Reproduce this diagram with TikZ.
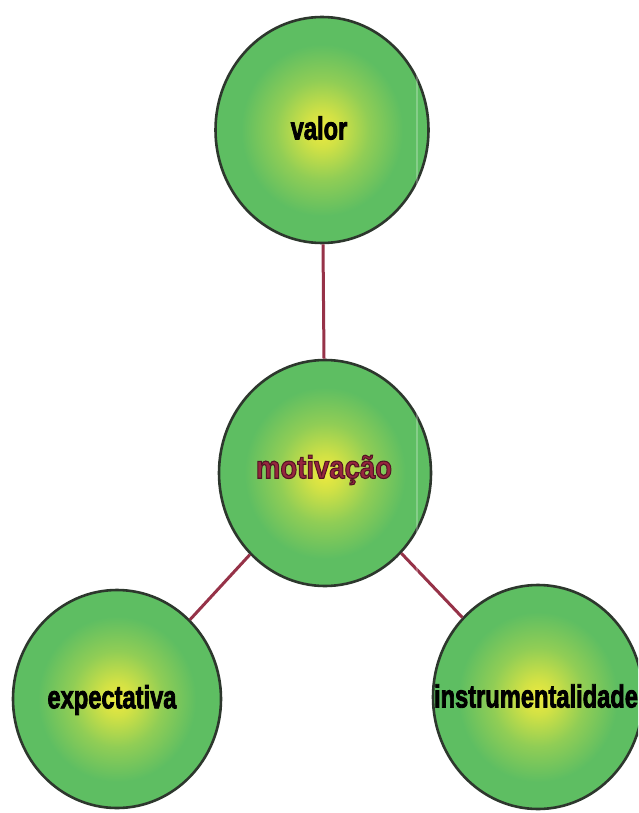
\documentclass[tikz,border=0pt]{standalone}
\usepackage{fontspec}
\setmainfont{Liberation Sans}
\usetikzlibrary{shapes.geometric}
\definecolor{ballgreen}{RGB}{94,190,98}
\definecolor{ballyellow}{RGB}{238,234,62}
\definecolor{rimcol}{RGB}{45,55,45}
\definecolor{linkcol}{RGB}{150,50,72}
\definecolor{motivcol}{RGB}{150,38,62}
\pgfdeclareradialshading{ballshade}{\pgfpoint{0bp}{0bp}}{%
  color(0bp)=(ballyellow);
  color(4bp)=(ballyellow!80!ballgreen);
  color(11bp)=(ballyellow!35!ballgreen);
  color(19bp)=(ballgreen);
  color(50bp)=(ballgreen)}
\tikzset{
  ball/.style={ellipse, draw=rimcol, line width=2.6pt, shading=ballshade, inner sep=0pt},
  link/.style={draw=linkcol, line width=3pt},
  lbl/.style={font=\bfseries\fontsize{32}{33}\selectfont}
}
\newcommand{\heavytxt}[2]{\scalebox{#1}[1]{\special{pdf:literal direct 2 Tr 0.9 w}#2\special{pdf:literal direct 0 Tr}}}
\newcommand{\heavyoutl}[2]{\scalebox{#1}[1]{\special{pdf:literal direct 2 Tr 1.1 w 0.32 0.08 0.14 RG}#2\special{pdf:literal direct 0 Tr}}}
\begin{document}
\begin{tikzpicture}[x=1pt,y=-1pt]
\useasboundingbox (0,0) rectangle (638,813);
\clip (0,0) rectangle (638,813);
\fill[white] (0,0) rectangle (638,813);
\node[ball, minimum width=213pt, minimum height=226pt] (valor) at (322,130) {};
\node[ball, minimum width=212pt, minimum height=226pt] (motiv) at (325,473) {};
\node[ball, minimum width=208pt, minimum height=218pt] (expect) at (117,699) {};
\node[ball, minimum width=210pt, minimum height=224pt] (instr) at (538,697) {};
\node[lbl, text=black] (tvalor) at (319,128) {\heavytxt{0.74}{valor}};
\node[lbl, text=motivcol] (tmotiv) at (324,470) {\heavyoutl{0.86}{motivação}};
\node[lbl, text=black] (texpect) at (112,700) {\heavytxt{0.74}{expectativa}};
\node[lbl, text=black] (tinstr) at (536,696) {\heavytxt{0.74}{instrumentalidade}};
\draw[link] (valor) -- (motiv);
\draw[link] (motiv) -- (expect);
\draw[link] (motiv) -- (instr);
\coordinate (scantop) at (417,0);
\coordinate (scanbot) at (417,813);
\draw[white, opacity=0.25, line width=1.5pt] (scantop) -- (scanbot);
\end{tikzpicture}
\end{document}
